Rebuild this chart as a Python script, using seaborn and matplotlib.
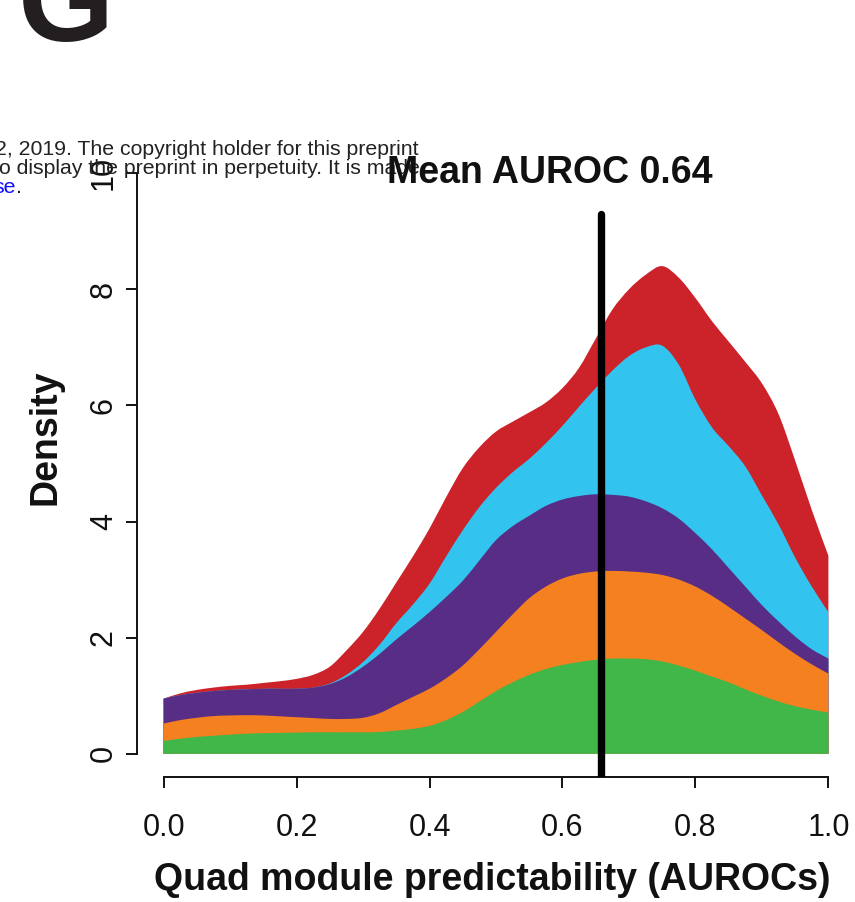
import numpy as np
import matplotlib
matplotlib.use("Agg")
import matplotlib.pyplot as plt
from matplotlib.path import Path
from matplotlib.patches import PathPatch
import seaborn as sns

# AUROC grid on which the stacked module densities are evaluated
auroc_grid = [0.000, 0.025, 0.050, 0.075, 0.100, 0.125, 0.150, 0.175, 0.200, 0.225,
              0.250, 0.275, 0.300, 0.325, 0.350, 0.375, 0.400, 0.425, 0.450, 0.475,
              0.500, 0.525, 0.550, 0.575, 0.600, 0.625, 0.650, 0.675, 0.700, 0.725,
              0.750, 0.775, 0.800, 0.825, 0.850, 0.875, 0.900, 0.925, 0.950, 0.975,
              1.000]

# Cumulative (stacked) density tops, bottom layer first
stack_green = [0.22, 0.26, 0.29, 0.31, 0.33, 0.345, 0.355, 0.36, 0.365, 0.37,
               0.37, 0.37, 0.37, 0.375, 0.40, 0.43, 0.48, 0.58, 0.72, 0.90,
               1.08, 1.23, 1.36, 1.46, 1.53, 1.58, 1.62, 1.64, 1.64, 1.63,
               1.59, 1.52, 1.43, 1.33, 1.23, 1.11, 1.00, 0.90, 0.82, 0.76,
               0.71]
stack_orange = [0.52, 0.58, 0.62, 0.65, 0.66, 0.665, 0.66, 0.645, 0.63, 0.615,
                0.60, 0.60, 0.62, 0.70, 0.84, 0.98, 1.12, 1.30, 1.52, 1.80,
                2.10, 2.40, 2.68, 2.88, 3.02, 3.10, 3.14, 3.15, 3.14, 3.12,
                3.08, 3.00, 2.88, 2.72, 2.53, 2.33, 2.13, 1.92, 1.72, 1.54,
                1.38]
stack_purple = [0.95, 1.01, 1.05, 1.08, 1.10, 1.11, 1.12, 1.12, 1.12, 1.14,
                1.20, 1.32, 1.50, 1.72, 1.97, 2.20, 2.44, 2.70, 2.98, 3.33,
                3.68, 3.92, 4.10, 4.27, 4.38, 4.44, 4.47, 4.46, 4.43, 4.35,
                4.23, 4.05, 3.80, 3.52, 3.20, 2.88, 2.56, 2.28, 2.02, 1.80,
                1.64]
stack_cyan = [0.95, 1.01, 1.05, 1.08, 1.10, 1.11, 1.12, 1.12, 1.12, 1.14,
              1.21, 1.36, 1.58, 1.88, 2.25, 2.57, 2.93, 3.40, 3.85, 4.25,
              4.58, 4.85, 5.08, 5.35, 5.65, 5.98, 6.30, 6.60, 6.85, 7.00,
              7.03, 6.70, 6.10, 5.62, 5.30, 4.95, 4.45, 3.95, 3.38, 2.88,
              2.44]
stack_red = [0.95, 1.04, 1.10, 1.14, 1.17, 1.19, 1.22, 1.25, 1.29, 1.36,
             1.50, 1.78, 2.10, 2.50, 2.95, 3.40, 3.88, 4.42, 4.92, 5.28,
             5.55, 5.72, 5.88, 6.05, 6.30, 6.65, 7.15, 7.65, 8.00, 8.25,
             8.40, 8.20, 7.85, 7.45, 7.10, 6.75, 6.38, 5.85, 5.05, 4.20,
             3.41]

layer_colors = {
    "red": "#CC2229",
    "cyan": "#33C3EF",
    "purple": "#582D86",
    "orange": "#F58020",
    "green": "#41B649",
}

reference_line_x = 0.658
reference_line_top = 9.3
mean_auroc = 0.64

x_ticks = [0.0, 0.2, 0.4, 0.6, 0.8, 1.0]
x_tick_labels = ["0.0", "0.2", "0.4", "0.6", "0.8", "1.0"]
y_ticks = [0, 2, 4, 6, 8, 10]
y_tick_labels = ["0", "2", "4", "6", "8", "10"]

sns.set_style("ticks")
plt.rcParams["font.family"] = ["Liberation Sans", "DejaVu Sans"]

W, H = 855, 902
fig = plt.figure(figsize=(W / 100, H / 100), dpi=100)


def fx(px):
    return px / W


def fy(py):
    return 1 - py / H


def smooth_area_path(xs, ys):
    """Closed area under a curve drawn as cubic Bezier segments through every point."""
    pts = np.column_stack([xs, ys]).astype(float)
    n = len(pts)
    verts = [pts[0]]
    codes = [Path.MOVETO]
    for i in range(n - 1):
        p_prev = pts[max(i - 1, 0)]
        p0 = pts[i]
        p1 = pts[i + 1]
        p_next = pts[min(i + 2, n - 1)]
        c1 = p0 + (p1 - p_prev) / 6.0
        c2 = p1 - (p_next - p0) / 6.0
        verts += [c1, c2, p1]
        codes += [Path.CURVE4] * 3
    verts += [(xs[-1], 0.0), (xs[0], 0.0), pts[0]]
    codes += [Path.LINETO, Path.LINETO, Path.CLOSEPOLY]
    return Path(np.asarray(verts), codes)


ax = fig.add_axes([fx(137), fy(777), 718 / W, 627 / H])
ax.set_xlim(-0.04, 1.04)
ax.set_ylim(-0.4, 10.4)

x = np.asarray(auroc_grid)
stacks = [("red", stack_red), ("cyan", stack_cyan), ("purple", stack_purple),
          ("orange", stack_orange), ("green", stack_green)]
for name, top in stacks:
    patch = PathPatch(smooth_area_path(x, np.asarray(top)),
                      facecolor=layer_colors[name], edgecolor="none",
                      linewidth=0, zorder=2)
    ax.add_patch(patch)

ax.plot([reference_line_x, reference_line_x], [-1, reference_line_top],
        color="black", lw=5.3, solid_capstyle="round", zorder=3)

# R-style axes: lines only span the tick range
for side in ("top", "right"):
    ax.spines[side].set_visible(False)
ax.spines["left"].set_bounds(0, 10)
ax.spines["bottom"].set_bounds(0, 1)
for side in ("left", "bottom"):
    ax.spines[side].set_linewidth(1.4)
    ax.spines[side].set_color("#111111")

ax.set_xticks(x_ticks)
ax.set_xticklabels(x_tick_labels)
ax.set_yticks(y_ticks)
ax.set_yticklabels(y_tick_labels)
ax.tick_params(axis="both", direction="out", length=8, width=1.4,
               color="#111111", labelsize=22, labelcolor="#111111")
ax.tick_params(axis="x", pad=18)
ax.tick_params(axis="y", pad=5, labelrotation=90)
for lab in ax.get_yticklabels():
    lab.set_verticalalignment("center")

# Axis titles and panel title
fig.text(fx(492), fy(890), "Quad module predictability (AUROCs)", ha="center",
         va="baseline", fontsize=27, fontweight="bold", color="#111111")
fig.text(fx(55), fy(437), "Density", rotation=90, rotation_mode="anchor",
         ha="center", va="baseline", fontsize=27, fontweight="bold",
         color="#111111")

# Preprint notice lines that sit behind the panel title
notice_color = "#222222"
fig.text(fx(419), fy(155), "2, 2019. The copyright holder for this preprint",
         ha="right", va="baseline", fontsize=15.3, color=notice_color)
fig.text(fx(420), fy(174), "o display the preprint in perpetuity. It is made",
         ha="right", va="baseline", fontsize=15.3, color=notice_color)
fig.text(fx(16), fy(193), "se", ha="right", va="baseline", fontsize=15.3,
         color="#1010FF")
fig.text(fx(16), fy(193), ".", ha="left", va="baseline", fontsize=15.3,
         color=notice_color)

fig.text(fx(550), fy(183), f"Mean AUROC {mean_auroc:.2f}", ha="center",
         va="baseline", fontsize=27, fontweight="bold", color="#111111")

# Panel letter
fig.text(fx(18), fy(41), "G", ha="left", va="baseline", fontsize=89,
         fontweight="bold", color="#231F20")

fig.savefig("out.png", dpi=100, facecolor="white")
